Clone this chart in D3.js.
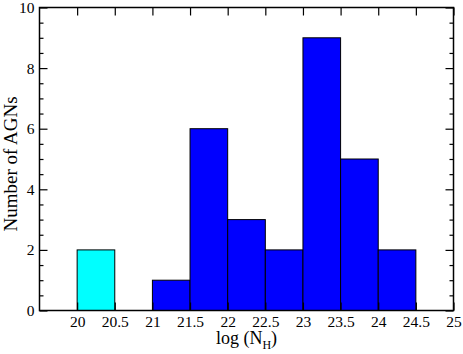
<!DOCTYPE html>
<html>
<head>
<meta charset="utf-8">
<script src="https://cdn.jsdelivr.net/npm/d3@7"></script>
<style>
  body { margin: 0; background: #fff; }
  text { font-family: "Liberation Serif", "Times New Roman", serif; }
</style>
</head>
<body>
<svg width="463" height="354"></svg>
<script>
// bin edges (log N_H) and counts
const binStart = [20, 21, 21.5, 22, 22.5, 23, 23.5, 24];
const binCount = [2, 1, 6, 3, 2, 9, 5, 2];
const binColor = ["cyan", "blue", "blue", "blue", "blue", "blue", "blue", "blue"];
const binWidth = 0.5;

const xTicks = [20, 20.5, 21, 21.5, 22, 22.5, 23, 23.5, 24, 24.5, 25];
const yTicks = [0, 2, 4, 6, 8, 10];
const yMinor = [0.5, 1, 1.5, 2.5, 3, 3.5, 4.5, 5, 5.5, 6.5, 7, 7.5, 8.5, 9, 9.5];

const margin = { top: 7.5, right: 9.5, bottom: 43.5, left: 39.5 };
const width = 463;
const height = 354;

const xScale = d3.scaleLinear()
  .domain([19.5, 25])
  .range([margin.left, width - margin.right]);
const yScale = d3.scaleLinear()
  .domain([0, 10])
  .range([height - margin.bottom, margin.top]);

const svg = d3.select("svg");

// bars
svg.selectAll("rect.bar")
  .data(binStart)
  .enter()
  .append("rect")
  .attr("class", "bar")
  .attr("x", d => xScale(d))
  .attr("y", (d, i) => yScale(binCount[i]))
  .attr("width", d => xScale(d + binWidth) - xScale(d))
  .attr("height", (d, i) => yScale(0) - yScale(binCount[i]))
  .attr("fill", (d, i) => binColor[i])
  .attr("stroke", "#000")
  .attr("stroke-width", 1);

// axes: ticks pointing inward
const bottomAxis = d3.axisBottom(xScale).tickValues(xTicks).tickSize(-8).tickPadding(5)
  .tickFormat(d3.format("~g"));
const topAxis = d3.axisTop(xScale).tickValues(xTicks).tickSize(-8).tickFormat("");
const leftAxis = d3.axisLeft(yScale).tickValues(yTicks).tickSize(-8).tickPadding(5);
const rightAxis = d3.axisRight(yScale).tickValues(yTicks).tickSize(-8).tickFormat("");
const leftMinor = d3.axisLeft(yScale).tickValues(yMinor).tickSize(-4).tickFormat("");
const rightMinor = d3.axisRight(yScale).tickValues(yMinor).tickSize(-4).tickFormat("");

function style(g) {
  g.attr("font-family", null);
  g.select(".domain").remove();
  g.selectAll(".tick line").attr("stroke", "#000").attr("stroke-width", 1.2);
  g.selectAll(".tick text")
    .attr("fill", "#000")
    .style("font-family", "'Liberation Serif', 'Times New Roman', serif")
    .style("font-size", "15.5px");
}

svg.append("g").attr("transform", `translate(0,${yScale(0)})`).call(bottomAxis).call(style);
svg.append("g").attr("transform", `translate(0,${yScale(10)})`).call(topAxis).call(style);
svg.append("g").attr("transform", `translate(${xScale(19.5)},0)`).call(leftAxis).call(style);
svg.append("g").attr("transform", `translate(${xScale(25)},0)`).call(rightAxis).call(style);
svg.append("g").attr("transform", `translate(${xScale(19.5)},0)`).call(leftMinor).call(style);
svg.append("g").attr("transform", `translate(${xScale(25)},0)`).call(rightMinor).call(style);

// frame
svg.append("rect")
  .attr("x", xScale(19.5))
  .attr("y", yScale(10))
  .attr("width", xScale(25) - xScale(19.5))
  .attr("height", yScale(0) - yScale(10))
  .attr("fill", "none")
  .attr("stroke", "#000")
  .attr("stroke-width", 1.5);

// labels
const xLabel = svg.append("text")
  .attr("x", (xScale(19.5) + xScale(25)) / 2)
  .attr("y", 344)
  .attr("text-anchor", "middle")
  .style("font-size", "18px");
xLabel.append("tspan").text("log (N");
xLabel.append("tspan").attr("dy", 5).style("font-size", "12px").text("H");
xLabel.append("tspan").attr("dy", -5).text(")");

svg.append("text")
  .attr("transform", `translate(17,164) rotate(-90)`)
  .attr("text-anchor", "middle")
  .style("font-size", "19px")
  .text("Number of AGNs");
</script>
</body>
</html>
